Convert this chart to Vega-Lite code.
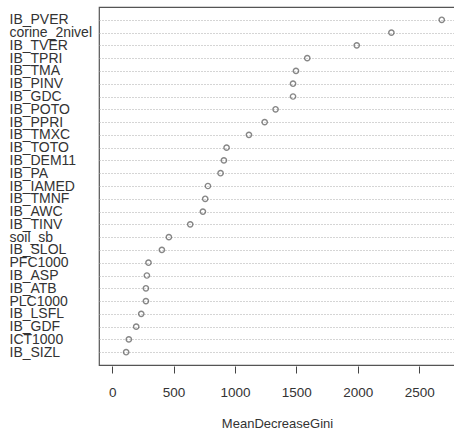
{
  "$schema": "https://vega.github.io/schema/vega-lite/v6.json",
  "width": 356,
  "height": 358,
  "autosize": "none",
  "padding": {"left": 99, "top": 7, "right": 0, "bottom": 67},
  "background": "white",
  "config": {
    "view": {"stroke": "#555555", "strokeWidth": 1.2},
    "font": "Liberation Sans"
  },
  "data": {
    "values": [
      {"var": "IB_PVER", "gini": 2684},
      {"var": "corine_2nivel", "gini": 2274},
      {"var": "IB_TVER", "gini": 1992},
      {"var": "IB_TPRI", "gini": 1589},
      {"var": "IB_TMA", "gini": 1497},
      {"var": "IB_PINV", "gini": 1473},
      {"var": "IB_GDC", "gini": 1473},
      {"var": "IB_POTO", "gini": 1331},
      {"var": "IB_PPRI", "gini": 1242},
      {"var": "IB_TMXC", "gini": 1114},
      {"var": "IB_TOTO", "gini": 932},
      {"var": "IB_DEM11", "gini": 910},
      {"var": "IB_PA", "gini": 883},
      {"var": "IB_IAMED", "gini": 780},
      {"var": "IB_TMNF", "gini": 758},
      {"var": "IB_AWC", "gini": 739},
      {"var": "IB_TINV", "gini": 636},
      {"var": "soil_sb", "gini": 462},
      {"var": "IB_SLOL", "gini": 405},
      {"var": "PFC1000", "gini": 296},
      {"var": "IB_ASP", "gini": 283},
      {"var": "IB_ATB", "gini": 275},
      {"var": "PLC1000", "gini": 275},
      {"var": "IB_LSFL", "gini": 237},
      {"var": "IB_GDF", "gini": 196},
      {"var": "ICT1000", "gini": 136},
      {"var": "IB_SIZL", "gini": 114}
    ]
  },
  "mark": {"type": "point", "shape": "circle", "filled": false, "size": 28, "strokeWidth": 1.4, "color": "#555555"},
  "encoding": {
    "x": {
      "field": "gini",
      "type": "quantitative",
      "title": "MeanDecreaseGini",
      "scale": {"domain": [-107, 2792], "nice": false, "zero": false},
      "axis": {
        "values": [0, 500, 1000, 1500, 2000, 2500],
        "format": "d",
        "grid": false,
        "domain": false,
        "tickSize": 7,
        "tickColor": "#444444",
        "offset": 1,
        "labelFontSize": 13.5,
        "labelColor": "#333333",
        "labelPadding": 12,
        "titleFontSize": 13,
        "titleFontWeight": "normal",
        "titleColor": "#333333",
        "titlePadding": 19
      }
    },
    "y": {
      "field": "var",
      "type": "nominal",
      "sort": null,
      "title": null,
      "scale": {"type": "point", "padding": 1},
      "axis": {
        "domain": false,
        "ticks": false,
        "tickSize": 0,
        "labelAlign": "left",
        "labelBaseline": "middle",
        "labelPadding": 90,
        "labelFontSize": 14,
        "labelColor": "#333333",
        "labelLimit": 200,
        "grid": true,
        "gridColor": "#aaaaaa",
        "gridDash": [1, 2],
        "gridWidth": 1
      }
    }
  }
}
